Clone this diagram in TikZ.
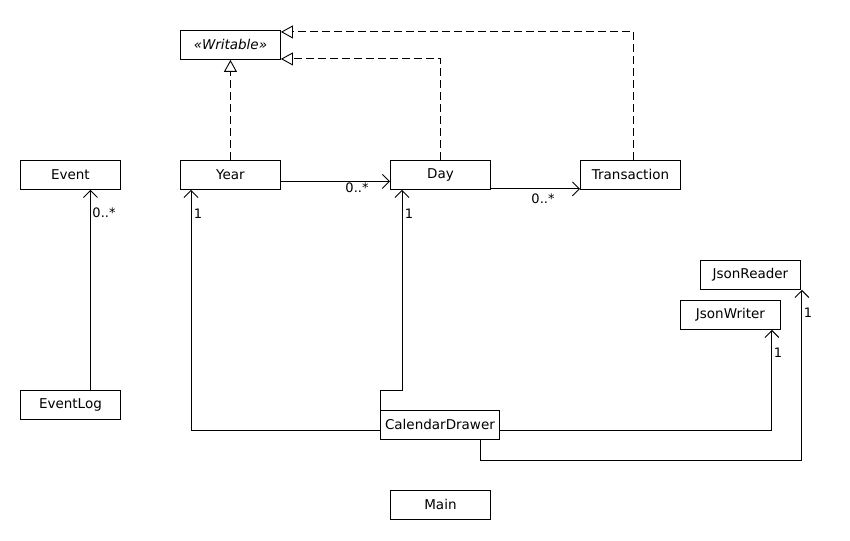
\documentclass[tikz,border=0pt]{standalone}
\usepackage{fontspec}
\setmainfont{DejaVu Sans}
\usetikzlibrary{arrows.meta,calc}
\tikzset{
  cls/.style={draw, line width=0.9pt, fill=white, minimum width=100pt, minimum height=29pt, inner sep=0pt, anchor=north west, font=\fontsize{13.5}{15}\selectfont},
  lbl/.style={inner sep=0pt, font=\fontsize{13}{15}\selectfont},
  assoc/.style={line width=0.9pt, -{Straight Barb[length=7pt,width=14pt,line width=0.9pt]}},
  real/.style={line width=0.9pt, dash pattern=on 8pt off 4pt, -{Triangle[open,length=12pt,width=13pt,line width=0.9pt]}}
}
\begin{document}
\begin{tikzpicture}[x=1pt,y=-1pt]
\useasboundingbox (0,0) rectangle (850,540);
\node[cls] (W) at (180,30) {\itshape «Writable»};
\node[cls] (Ev) at (20,160) {Event};
\node[cls] (Yr) at (180,160) {Year};
\node[cls] (Dy) at (390,160) {Day};
\node[cls] (Tr) at (580,160) {Transaction};
\node[cls] (JR) at (700,260) {JsonReader};
\node[cls] (JW) at (680,300) {JsonWriter};
\node[cls] (EL) at (20,390) {EventLog};
\node[cls, minimum width=119pt] (CD) at (380,410) {CalendarDrawer};
\node[cls] (Mn) at (390,490) {Main};

% realizations
\draw[real] (Yr.north) -- (W.south);
\draw[real] (Dy.north) |- ([yshift=-14pt]W.east);
\draw[real] ([xshift=3pt]Tr.north) |- ([yshift=13pt]W.east);

% associations
\draw[assoc] ([yshift=-6.5pt]Yr.east) -- ([yshift=-6.5pt]Dy.west);
\draw[assoc] ([yshift=1pt]Dy.south east) -- ([yshift=1pt]Tr.south west);
\draw[assoc] ([xshift=20pt]EL.north) -- ([xshift=20pt]Ev.south);
\draw[assoc] ([yshift=-5.5pt]CD.west) -| ([xshift=11pt]Yr.south west);
\draw[assoc] (CD.north west) -- ++(0,-20) -| ([xshift=12pt]Dy.south west);
\draw[assoc] ([yshift=-5.5pt]CD.east) -| ([xshift=-9pt]JW.south east);
\draw[assoc] ([xshift=100pt]CD.south west) -- ++(0,21) -| ([xshift=1pt]JR.south east);

% multiplicities
\node[lbl] (m1) at (357,188) {0..*};
\node[lbl] (m2) at (543,199) {0..*};
\node[lbl] (m3) at (104,213) {0..*};
\node[lbl] (m4) at (198,214) {1};
\node[lbl] (m5) at (409,214) {1};
\node[lbl] (m6) at (778,353) {1};
\node[lbl] (m7) at (808,313) {1};
\end{tikzpicture}
\end{document}
